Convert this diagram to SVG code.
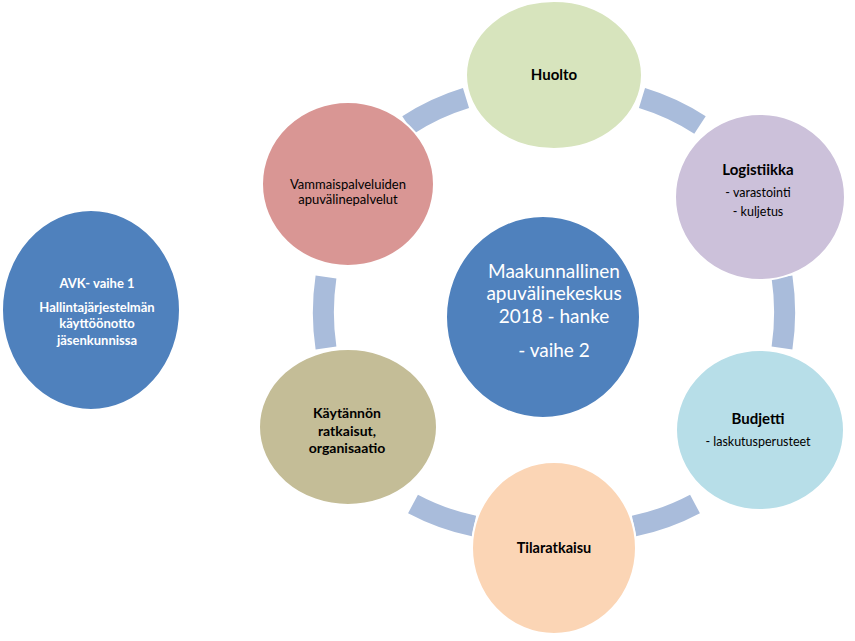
<svg xmlns="http://www.w3.org/2000/svg" width="855" height="641" viewBox="0 0 855 641">
<style>
  .conn { fill: none; stroke: #a9bcdb; stroke-width: 21; }
  .node { stroke: #ffffff; stroke-width: 2; }
  text { font-family: Lato, "Liberation Sans", sans-serif; text-anchor: middle; }
  .w { fill: #ffffff; }
  .k { fill: #000000; }
  .b { font-weight: bold; }
</style>
<rect width="855" height="641" fill="#ffffff"/>
<g id="connectors">
  <path class="conn" d="M408,125 A230,235 0 0 1 466,98"/>
  <path class="conn" d="M642,98 A230,235 0 0 1 700,125"/>
  <path class="conn" d="M782,277 A230,235 0 0 1 782,348"/>
  <path class="conn" d="M695,504 A230,235 0 0 1 634,526"/>
  <path class="conn" d="M474,526 A230,235 0 0 1 413,504"/>
  <path class="conn" d="M326,348 A230,235 0 0 1 326,277"/>
</g>
<g id="avk">
  <ellipse class="node" cx="91" cy="310" rx="89" ry="100" fill="#4f81bd"/>
  <text class="w b" x="97" y="288" font-size="13">AVK- vaihe 1</text>
  <text class="w b" x="97" y="312" font-size="13">Hallintajärjestelmän</text>
  <text class="w b" x="97" y="328" font-size="13">käyttöönotto</text>
  <text class="w b" x="97" y="345" font-size="13">jäsenkunnissa</text>
</g>
<g id="center">
  <ellipse class="node" cx="543" cy="317" rx="97" ry="101" fill="#4f81bd"/>
  <text class="w" x="554" y="278" font-size="19">Maakunnallinen</text>
  <text class="w" x="554" y="300" font-size="19">apuvälinekeskus</text>
  <text class="w" x="554" y="323" font-size="19">2018 - hanke</text>
  <text class="w" x="554" y="357" font-size="19">- vaihe 2</text>
</g>
<g id="huolto">
  <ellipse class="node" cx="554" cy="75" rx="88" ry="74" fill="#d7e4bd"/>
  <text class="k b" x="554" y="80" font-size="15">Huolto</text>
</g>
<g id="logistiikka">
  <ellipse class="node" cx="760" cy="197" rx="85" ry="83" fill="#ccc1da"/>
  <text class="k b" x="758" y="175" font-size="15">Logistiikka</text>
  <text class="k" x="758" y="197" font-size="12.5">- varastointi</text>
  <text class="k" x="758" y="216" font-size="12.5">- kuljetus</text>
</g>
<g id="budjetti">
  <ellipse class="node" cx="760" cy="430" rx="84" ry="80" fill="#b7dee8"/>
  <text class="k b" x="758" y="424" font-size="15">Budjetti</text>
  <text class="k" x="758" y="446" font-size="12.5">- laskutusperusteet</text>
</g>
<g id="tilaratkaisu">
  <ellipse class="node" cx="554" cy="548" rx="82" ry="86" fill="#fbd5b5"/>
  <text class="k b" x="554" y="553" font-size="14.5">Tilaratkaisu</text>
</g>
<g id="kaytannon">
  <ellipse class="node" cx="348" cy="427" rx="89" ry="78" fill="#c4bd97"/>
  <text class="k b" x="347" y="418" font-size="14">Käytännön</text>
  <text class="k b" x="347" y="436" font-size="14">ratkaisut,</text>
  <text class="k b" x="347" y="453" font-size="14">organisaatio</text>
</g>
<g id="vammais">
  <ellipse class="node" cx="348" cy="184" rx="86" ry="82" fill="#d99694"/>
  <text class="k" x="348" y="189" font-size="13">Vammaispalveluiden</text>
  <text class="k" x="348" y="204" font-size="13">apuvälinepalvelut</text>
</g>
</svg>
